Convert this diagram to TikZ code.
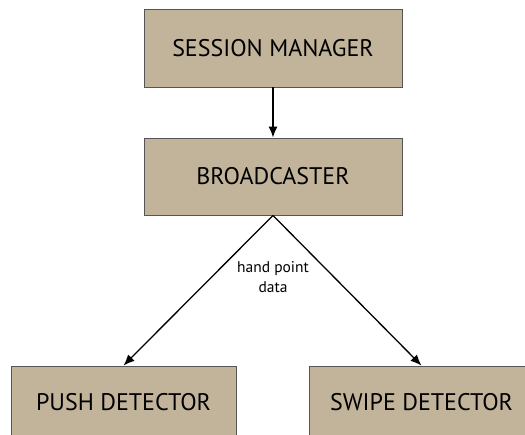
\documentclass[tikz,border=0pt]{standalone}
\usepackage{fontspec}
\setmainfont{PT Sans}
\usetikzlibrary{arrows.meta}

\definecolor{boxtan}{HTML}{C2B49B}
\definecolor{boxedge}{HTML}{555555}

\tikzset{
  block/.style={draw=boxedge, fill=boxtan, line width=0.9pt, minimum width=258pt,
    inner sep=0pt, font=\fontsize{24}{26}\selectfont},
  flow/.style={-{Latex[length=11pt,width=9pt]}, line width=1.3pt}
}

\begin{document}
\begin{tikzpicture}[x=1pt,y=-1pt]
  \useasboundingbox (0,0) rectangle (525,435);
  \clip (0,0) rectangle (525,435);
  % the two upper blocks
  \node[block, minimum height=78pt] (manager) at (273,48) {SESSION MANAGER};
  \node[block, minimum height=77pt] (caster) at (273,176.5) {BROADCASTER};
  % the detectors, cut at the bottom
  \node[block, minimum width=225pt, minimum height=72pt] (push) at (123.5,402) {PUSH DETECTOR};
  \node[block, minimum width=225pt, minimum height=72pt] (swipe) at (421.5,402) {SWIPE DETECTOR};

  % links
  \draw[flow] (manager) -- (caster);
  \draw[flow] (caster.south) -- (push.north);
  \draw[flow] (caster.south) -- (swipe.north);
  \node[align=center, font=\fontsize{15.5}{20}\selectfont] (data) at (273,277) {hand point\\data};
\end{tikzpicture}
\end{document}
